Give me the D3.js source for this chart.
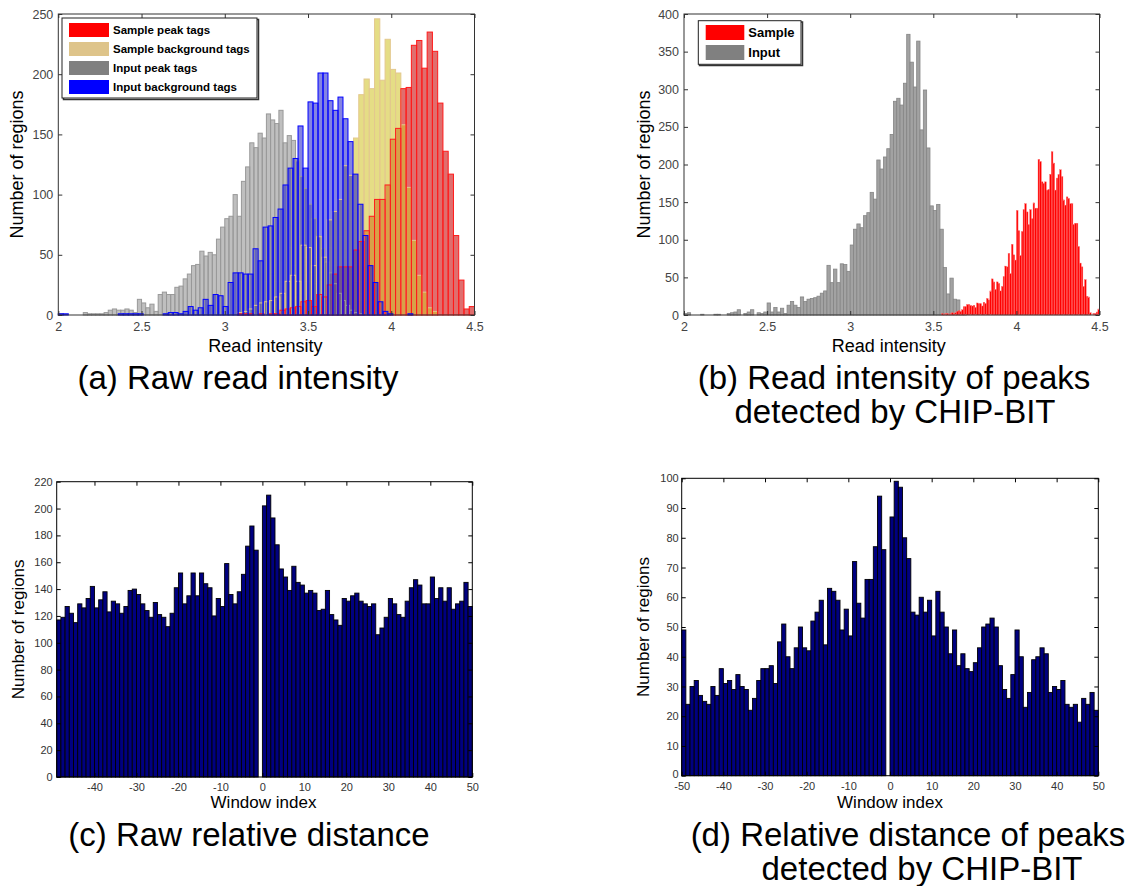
<!DOCTYPE html>
<html><head><meta charset="utf-8">
<script src="https://cdn.jsdelivr.net/npm/d3@7"></script>
<style>
body{margin:0;background:#fff}
svg{display:block}
text{font-family:"Liberation Sans",Arial,Helvetica,sans-serif}
</style>
</head><body>
<svg id="fig" width="1135" height="886"></svg>
<script>
// ---------------- DATA ----------------
// Panel (a): raw read intensity histograms
const aTicksX = [2, 2.5, 3, 3.5, 4, 4.5];
const aTicksY = [0, 50, 100, 150, 200, 250];
const aGrayStart = 2.0, aGrayWidth = 0.025;
const aInputPeak = [1,0,0,0,0,0,2,1,1,1, 1,2,4,5,4,4,5,4,2,13, 10,6,9,3,17,19,17,17,23,24,
  30,34,41,42,53,49,52,50,63,73, 80,82,100,82,111,123,143,139,151,147, 167,162,159,170,143,149,145,128,115,105,
  92,80,66,55,44,35,26,18,12,8, 4,2,1];
const aBlueStart = 2.0, aBlueWidth = 0.03;
const aInputBackground = [1,1,0,0,0,0,0,0,0,0, 0,0,1,1,1,1,1,0,0,0, 0,1,2,2,1,3,7,4,6,13,
  8,17,16,7,27,35,35,34,34,55, 45,73,74,81,88,108,122,130,157,122, 177,176,201,201,178,170,181,163,144,117,
  92,66,41,27,11,3,1,0,0,0, 1];
const aSampleStart = 3.078, aSampleWidth = 0.0316;
const aSampleBackground = [2,3,5,8,10,11,12,15,18,28, 33,28,58,56,41,65,48,79,86,96,
  124,116,147,183,196,188,246,195,229,204, 201,158,106,62,33,19,6,3];
const aSamplePeak = [1,1,1,0,1,0,1,1,4,5, 6,7,11,12,7,17,15,25,34,40,
  40,40,54,61,70,82,96,96,108,146, 155,188,189,224,228,205,235,219,176,136,
  117,66,29,5,7];
const aLegend = ["Sample peak tags", "Sample background tags", "Input peak tags", "Input background tags"];

// Panel (b): read intensity of peaks detected by CHIP-BIT
const bTicksX = [2, 2.5, 3, 3.5, 4, 4.5];
const bTicksY = [0, 50, 100, 150, 200, 250, 300, 350, 400];
const bInputStart = 2.0, bInputWidth = 0.02;
const bInput = [2,3,0,0,0,1,0,0,0,1, 1,0,0,2,3,4,7,0,2,4, 7,0,3,2,4,
  16,4,10,4,9,2,13,18,13,10,24,18,21,22,23,25,29,32,
  66,43,61,43,68,67,58,93,114,121,116,132,136,163,154,206,194,
  210,221,240,284,288,279,308,373,336,303,364,246,299,222,145,139,147,114,63,28,
  49,21,20,4,1];
const bSampleStart = 3.55, bSampleWidth = 0.01;
const bSample = [2,1,2,2,1,2,3,2,3,5, 6,5,7,11,11,14,14,13,12,13,
  10,16,15,15,12,17,15,22,20,32, 48,44,34,44,42,32,38,51,65,64,
  82,55,94,80,73,139,112,79,111,140, 148,137,120,140,128,149,142,142,207,204,
  177,175,177,166,167,187,217,202,166,182, 187,193,184,153,146,157,155,148,148,120,
  122,122,91,69,64,38,47,25,24,3, 0,2,2,4,8];
const bLegend = ["Sample", "Input"];

// Panel (c): raw relative distance (window index -49 .. 49)
const cStart = -49;
const cTicksX = [-40, -30, -20, -10, 0, 10, 20, 30, 40, 50];
const cTicksY = [0,20,40,60,80,100,120,140,160,180,200,220];
const cCounts = [117,119,127,122,115,129,126,133,142,126, 132,138,123,131,129,122,127,139,140,136,
  129,124,119,130,121,119,112,122,141,152, 129,135,152,135,152,144,141,120,133,127,
  159,136,129,138,151,172,187,169,0,
  202,210,193,173,155,149,139,157,145,143, 137,139,137,124,125,139,121,117,113,133,
  131,135,137,131,129,127,129,106,111,119, 133,129,121,119,131,141,147,143,129,129,
  149,133,141,131,141,125,129,131,145,127];

// Panel (d): relative distance of peaks (window index -50 .. 49)
const dStart = -50;
const dTicksX = [-50, -40, -30, -20, -10, 0, 10, 20, 30, 40, 50];
const dTicksY = [0,10,20,30,40,50,60,70,80,90,100];
const dCounts = [49,24,30,32,27,25,24,30,27,36, 31,32,29,34,30,29,22,26,32,36,
  36,37,31,45,51,40,36,43,50,43, 42,52,55,59,44,63,62,59,49,56,
  47,72,58,53,66,66,77,94,76,0,
  87,99,97,80,73,55,54,60,55,59, 47,62,55,50,41,49,37,41,36,35,
  38,43,50,51,53,50,37,29,26,34, 49,40,23,28,39,40,43,41,28,30,
  29,32,24,23,24,18,26,24,28,22];

const captions = [
  {lines: ["(a) Raw read intensity"]},
  {lines: ["(b) Read intensity of peaks", "detected by CHIP-BIT"]},
  {lines: ["(c) Raw relative distance"]},
  {lines: ["(d) Relative distance of peaks", "detected by CHIP-BIT"]}
];

// ---------------- DRAWING ----------------
const svg = d3.select("#fig");

function makePanel(o) {
  const x = d3.scaleLinear().domain(o.xd).range([o.l, o.r]);
  const y = d3.scaleLinear().domain(o.yd).range([o.b, o.t]);
  return {x, y, o};
}

function histRects(g, p, start, width, values, style) {
  const data = values.map((v, i) => ({x0: start + i * width, x1: start + (i + 1) * width, v}))
    .filter(d => d.v > 0);
  const sel = g.append("g").selectAll("rect").data(data).join("rect")
    .attr("x", d => p.x(d.x0))
    .attr("width", d => Math.max(0.3, p.x(d.x1) - p.x(d.x0)))
    .attr("y", d => p.y(d.v))
    .attr("height", d => p.y(0) - p.y(d.v));
  for (const k in style) sel.attr(k, style[k]);
  return sel;
}

function drawAxes(p, ticksX, ticksY, cfg) {
  const o = p.o;
  const g = svg.append("g");
  const fmt = d => String(d);
  const bottom = g.append("g").attr("transform", `translate(0,${o.b})`)
    .call(d3.axisBottom(p.x).tickValues(ticksX).tickFormat(fmt).tickSize(-cfg.tick).tickPadding(cfg.padX));
  const left = g.append("g").attr("transform", `translate(${o.l},0)`)
    .call(d3.axisLeft(p.y).tickValues(ticksY).tickFormat(fmt).tickSize(-cfg.tick).tickPadding(cfg.padY));
  const top = g.append("g").attr("transform", `translate(0,${o.t})`)
    .call(d3.axisTop(p.x).tickValues(ticksX).tickFormat("").tickSize(-cfg.tick));
  const right = g.append("g").attr("transform", `translate(${o.r},0)`)
    .call(d3.axisRight(p.y).tickValues(ticksY).tickFormat("").tickSize(-cfg.tick));
  [bottom, left, top, right].forEach(a => {
    a.select(".domain").remove();
    a.selectAll(".tick line").attr("stroke", cfg.axisColor).attr("stroke-width", 1);
    a.selectAll("text").attr("font-size", cfg.fs).attr("fill", cfg.textColor)
      .attr("font-family", '"Liberation Sans",Arial,sans-serif');
  });
  if (cfg.zeroDy) left.selectAll(".tick").filter(d => d === 0).select("text").attr("dy", cfg.zeroDy);
  g.append("rect").attr("x", o.l).attr("y", o.t).attr("width", o.r - o.l).attr("height", o.b - o.t)
    .attr("fill", "none").attr("stroke", cfg.axisColor).attr("stroke-width", 1);
  return g;
}

function axisLabels(p, xl, yl, cfg) {
  const o = p.o;
  svg.append("text").attr("x", (o.l + o.r) / 2 + (cfg.xlDx || 0)).attr("y", cfg.xlY)
    .attr("text-anchor", "middle").attr("font-size", cfg.lfs).attr("fill", "#000").text(xl);
  svg.append("text").attr("transform", `translate(${cfg.ylX},${(o.t + o.b) / 2 + (cfg.ylDy || 0)}) rotate(-90)`)
    .attr("text-anchor", "middle").attr("font-size", cfg.lfs).attr("fill", "#000").text(yl);
}

// ---- Panel A ----
const pA = makePanel({l: 58.3, r: 474.5, t: 14, b: 315, xd: [2, 4.5], yd: [0, 250]});
{
  const g = svg.append("g");
  const fills = g.append("g");
  histRects(fills, pA, aGrayStart, aGrayWidth, aInputPeak, {fill: "rgb(128,128,128)", "fill-opacity": 0.5, stroke: "none"});
  histRects(fills, pA, aSampleStart, aSampleWidth, aSamplePeak, {fill: "rgb(200,0,0)", "fill-opacity": 0.57, stroke: "none"});
  histRects(fills, pA, aSampleStart, aSampleWidth, aSampleBackground, {fill: "rgb(210,196,45)", "fill-opacity": 0.58, stroke: "none"});
  histRects(fills, pA, aBlueStart, aBlueWidth, aInputBackground, {fill: "rgb(20,20,200)", "fill-opacity": 0.52, stroke: "none"});
  const edges = g.append("g").attr("fill", "none");
  histRects(edges, pA, aGrayStart, aGrayWidth, aInputPeak, {fill: "none", stroke: "#999", "stroke-width": 1});
  histRects(edges, pA, aSampleStart, aSampleWidth, aSampleBackground, {fill: "none", stroke: "#e3c88e", "stroke-width": 1});
  histRects(edges, pA, aSampleStart, aSampleWidth, aSamplePeak, {fill: "none", stroke: "#ff1a1a", "stroke-width": 1});
  histRects(edges, pA, aBlueStart, aBlueWidth, aInputBackground, {fill: "none", stroke: "#0000ff", "stroke-width": 1});
}
drawAxes(pA, aTicksX, aTicksY, {tick: 4, padX: 7, padY: 5, fs: 12.5, axisColor: "#333", textColor: "#444"});
axisLabels(pA, "Read intensity", "Number of regions", {lfs: 18, xlY: 352, ylX: 23, xlDx: -1, ylDy: 0});
{
  const lg = svg.append("g");
  const colors = ["#ff0000", "#dec48a", "#808080", "#0000ff"];
  lg.append("rect").attr("x", 63.5).attr("y", 19.5).attr("width", 195).attr("height", 80)
    .attr("fill", "none").attr("stroke", "#333").attr("stroke-width", 1.5);
  lg.append("rect").attr("x", 62).attr("y", 18).attr("width", 195).attr("height", 80)
    .attr("fill", "#fff").attr("stroke", "#222").attr("stroke-width", 1);
  aLegend.forEach((t, i) => {
    const cy = 30 + i * 19;
    lg.append("rect").attr("x", 69).attr("y", cy - 7).attr("width", 40).attr("height", 14).attr("fill", colors[i]);
    lg.append("text").attr("x", 113).attr("y", cy + 4).attr("font-size", 11.5).attr("font-weight", "bold")
      .attr("fill", "#000").text(t);
  });
}

// ---- Panel B ----
const pB = makePanel({l: 684, r: 1099.5, t: 14, b: 315, xd: [2, 4.5], yd: [0, 400]});
{
  const g = svg.append("g");
  histRects(g, pB, bInputStart, bInputWidth, bInput, {fill: "#a2a2a2", stroke: "#858585", "stroke-width": 0.8});
  histRects(g, pB, bSampleStart, bSampleWidth, bSample, {fill: "#ff0000", stroke: "#ff7070", "stroke-width": 0.4});
}
drawAxes(pB, bTicksX, bTicksY, {tick: 4, padX: 7, padY: 5, fs: 12.5, axisColor: "#333", textColor: "#444"});
axisLabels(pB, "Read intensity", "Number of regions", {lfs: 18, xlY: 352, ylX: 650, xlDx: -3, ylDy: 0});
{
  const lg = svg.append("g");
  const colors = ["#ff0000", "#808080"];
  lg.append("rect").attr("x", 699.5).attr("y", 22).attr("width", 103).attr("height", 43.5)
    .attr("fill", "none").attr("stroke", "#333").attr("stroke-width", 1.5);
  lg.append("rect").attr("x", 698.3).attr("y", 20.7).attr("width", 102.7).attr("height", 43.6)
    .attr("fill", "#fff").attr("stroke", "#222").attr("stroke-width", 1);
  bLegend.forEach((t, i) => {
    const cy = 32.5 + i * 20;
    lg.append("rect").attr("x", 705.7).attr("y", cy - 7.5).attr("width", 38.6).attr("height", 15).attr("fill", colors[i]);
    lg.append("text").attr("x", 748.3).attr("y", cy + 4.5).attr("font-size", 13).attr("font-weight", "bold")
      .attr("fill", "#000").text(t);
  });
}

// ---- Panel C ----
const pC = makePanel({l: 56.7, r: 472.3, t: 481.7, b: 777, xd: [-49, 50], yd: [0, 220]});
{
  const g = svg.append("g");
  histRects(g, pC, cStart, 1, cCounts, {fill: "#000080", stroke: "#000", "stroke-width": 0.9});
}
drawAxes(pC, cTicksX, cTicksY, {tick: 4, padX: 6, padY: 4, fs: 11, axisColor: "#000", textColor: "#333"});
axisLabels(pC, "Window index", "Number of regions", {lfs: 17, xlY: 808, ylX: 24, xlDx: -1, ylDy: 0});

// ---- Panel D ----
const pD = makePanel({l: 681.7, r: 1098.3, t: 478.3, b: 775.7, xd: [-50, 50], yd: [0, 100]});
{
  const g = svg.append("g");
  histRects(g, pD, dStart, 1, dCounts, {fill: "#000080", stroke: "#000", "stroke-width": 0.9});
}
drawAxes(pD, dTicksX, dTicksY, {tick: 4, padX: 7, padY: 3, fs: 11, axisColor: "#000", textColor: "#333", zeroDy: "0.12em"});
axisLabels(pD, "Window index", "Number of regions", {lfs: 17, xlY: 808, ylX: 649, xlDx: 0, ylDy: 0});

// ---- Captions ----
const capPos = [
  [{x: 238, y: 389}],
  [{x: 894, y: 389}, {x: 895, y: 423}],
  [{x: 249, y: 846}],
  [{x: 908, y: 846}, {x: 922, y: 880}]
];
captions.forEach((c, i) => {
  c.lines.forEach((t, j) => {
    svg.append("text").attr("x", capPos[i][j].x).attr("y", capPos[i][j].y)
      .attr("text-anchor", "middle").attr("font-size", 33).attr("fill", "#000").text(t);
  });
});
</script>
</body></html>
